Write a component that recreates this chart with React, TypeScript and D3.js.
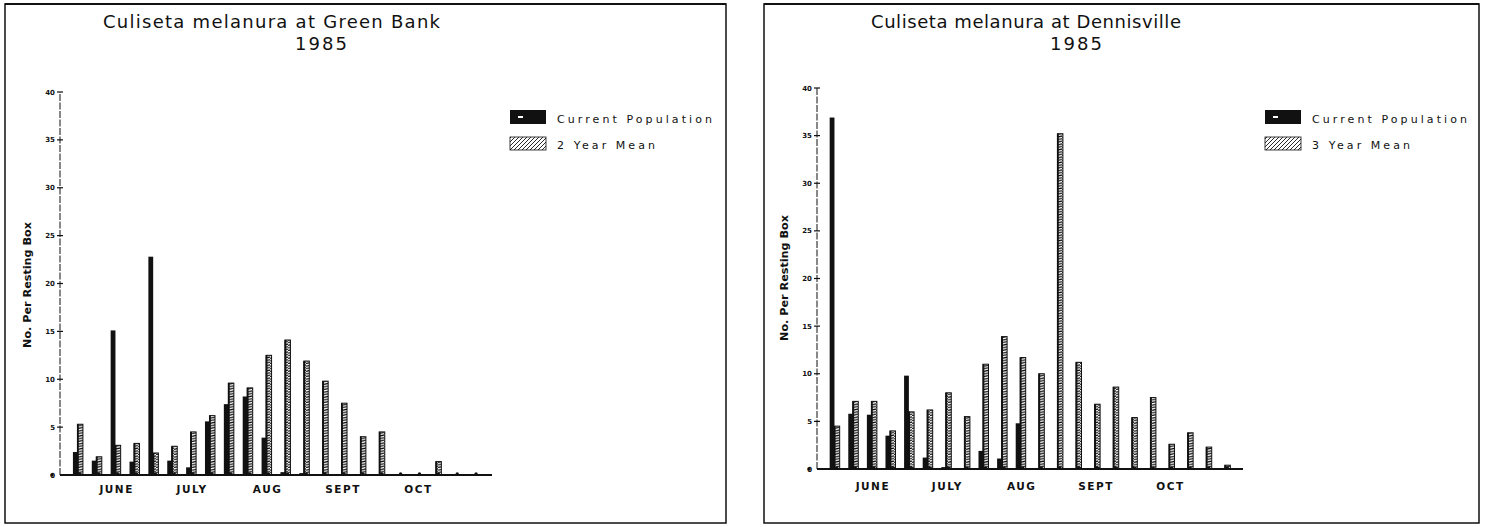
import React from "react";
import * as d3 from "d3";

const weeks = d3.range(1, 23);
const monthLabels = ["JUNE", "JULY", "AUG", "SEPT", "OCT"];
const monthWeekIndex = [2, 6, 10, 14, 18];
const yTicks = [0, 5, 10, 15, 20, 25, 30, 35, 40];

const greenBankCurrent = [2.4, 1.5, 15.1, 1.4, 22.8, 1.5, 0.8, 5.6, 7.4, 8.2, 3.9, 0.3, 0.2, 0.1, 0, 0, 0, 0, 0, 0, 0, 0];
const greenBankMean = [5.3, 1.9, 3.1, 3.3, 2.3, 3.0, 4.5, 6.2, 9.6, 9.1, 12.5, 14.1, 11.9, 9.8, 7.5, 4.0, 4.5, 0, 0, 1.4, 0, 0];

const dennisvilleCurrent = [36.9, 5.8, 5.7, 3.5, 9.8, 1.2, 0.2, 0, 1.9, 1.1, 4.8, 0, 0, 0, 0, 0, 0, 0, 0, 0, 0, 0];
const dennisvilleMean = [4.5, 7.1, 7.1, 4.0, 6.0, 6.2, 8.0, 5.5, 11.0, 13.9, 11.7, 10.0, 35.2, 11.2, 6.8, 8.6, 5.4, 7.5, 2.6, 3.8, 2.3, 0.4];

type PanelProps = {
  box: [number, number, number, number];
  title: string;
  titleX: number;
  titleLen: number;
  yearX: number;
  axisX: number;
  axisEnd: number;
  y0: number;
  y40: number;
  current: number[];
  mean: number[];
  legendX: number;
  legendY: number;
  meanLabel: string;
  yLabelX: number;
  yLabelY: number;
  monthY: number;
};

const FONT = "'DejaVu Sans', sans-serif";

function Panel(p: PanelProps) {
  const x = d3.scalePoint<number>().domain(weeks).range([p.axisX, p.axisEnd]).padding(0.95);
  const y = d3.scaleLinear().domain([0, 40]).range([p.y0, p.y40]);
  const [bx, by, bw, bh] = p.box;
  return (
    <g>
      <rect x={bx} y={by} width={bw} height={bh} fill="none" stroke="#111" strokeWidth={1.5} />
      <line x1={bx} x2={bx + bw} y1={by} y2={by} stroke="#111" strokeWidth={2} />
      <text x={p.titleX} y={28} fontFamily={FONT} fontSize={18} fill="#111" textLength={p.titleLen} lengthAdjust="spacing">
        {p.title}
      </text>
      <text x={p.yearX} y={50} fontFamily={FONT} fontSize={18} fill="#111" textAnchor="middle" letterSpacing={2}>
        1985
      </text>
      {/* y axis */}
      <line x1={p.axisX} x2={p.axisX} y1={y(0)} y2={y(40)} stroke="#111" strokeWidth={1} strokeDasharray="7,1.5" />
      <line x1={p.axisX - 3} x2={p.axisX + 3} y1={y(40)} y2={y(40)} stroke="#111" strokeWidth={1.2} />
      {yTicks.map((t) => (
        <g key={t}>
          {t > 0 && t < 40 && (
            <line x1={p.axisX - 3} x2={p.axisX + 3} y1={y(t)} y2={y(t)} stroke="#111" strokeWidth={1.2} />
          )}
          <text x={p.axisX - 5} y={y(t) + 2.5} fontFamily={FONT} fontSize={7} fontWeight="bold" fill="#111" textAnchor="end">
            {t}
          </text>
        </g>
      ))}
      <text
        transform={`translate(${p.yLabelX},${p.yLabelY}) rotate(-90)`}
        fontFamily={FONT}
        fontSize={11}
        fontWeight="bold"
        fill="#111"
        textAnchor="middle"
        textLength={126}
        lengthAdjust="spacingAndGlyphs"
      >
        No. Per Resting Box
      </text>
      {/* bars */}
      {weeks.map((w, i) => {
        const c = x(w) as number;
        const m = p.mean[i];
        const cu = p.current[i];
        return (
          <g key={w}>
            {m > 0 && (
              <rect x={c - 0.5} y={y(m)} width={5.5} height={y(0) - y(m)} fill="url(#ribs)" stroke="#111" strokeWidth={1} />
            )}
            {m > 0 && <line x1={c} x2={c} y1={y(m)} y2={y(0)} stroke="#111" strokeWidth={1.8} />}
            {cu > 0 && <rect x={c - 5} y={y(cu)} width={4.8} height={y(0) - y(cu)} fill="#111" />}
            <circle cx={c + 2} cy={y(0) - 1} r={1.7} fill="#111" />
          </g>
        );
      })}
      <line x1={p.axisX} x2={p.axisEnd} y1={y(0)} y2={y(0)} stroke="#111" strokeWidth={2} />
      <circle cx={p.axisX - 8} cy={y(0)} r={1.7} fill="#111" />
      {monthLabels.map((mLabel, k) => (
        <text
          key={mLabel}
          x={(x(weeks[monthWeekIndex[k]]) as number) + 1}
          y={p.monthY}
          fontFamily={FONT}
          fontSize={10.5}
          fontWeight="bold"
          fill="#111"
          textAnchor="middle"
          letterSpacing={1.5}
        >
          {mLabel}
        </text>
      ))}
      {/* legend */}
      <rect x={p.legendX} y={p.legendY} width={36} height={14} fill="#111" />
      <rect x={p.legendX + 8} y={p.legendY + 6} width={5} height={2} fill="#fff" />
      <text x={p.legendX + 47} y={p.legendY + 13} fontFamily={FONT} fontSize={11} fill="#111" textLength={155} lengthAdjust="spacing">
        Current Population
      </text>
      <rect x={p.legendX} y={p.legendY + 27} width={36} height={13} fill="url(#diag)" stroke="#111" strokeWidth={0.8} />
      <text x={p.legendX + 47} y={p.legendY + 39} fontFamily={FONT} fontSize={11} fill="#111" textLength={98} lengthAdjust="spacing">
        {p.meanLabel}
      </text>
    </g>
  );
}

export default function App() {
  return (
    <div style={{ position: "absolute", left: 0, top: 0 }}>
      <svg width={1489} height={527} style={{ display: "block", background: "#fff" }}>
        <defs>
          <pattern id="ribs" patternUnits="userSpaceOnUse" width={6} height={2.6}>
            <rect width={6} height={2.6} fill="#fff" />
            <path d="M0,2.2 L6,0.8" stroke="#111" strokeWidth={1.2} />
          </pattern>
          <pattern id="diag" patternUnits="userSpaceOnUse" width={4} height={4}>
            <rect width={4} height={4} fill="#fff" />
            <path d="M0,4 L4,0 M-1,1 L1,-1 M3,5 L5,3" stroke="#111" strokeWidth={0.9} />
          </pattern>
        </defs>
        <Panel
          box={[5, 4, 721, 519]}
          title="Culiseta melanura at Green Bank"
          titleX={103}
          titleLen={337}
          yearX={322}
          axisX={60}
          axisEnd={492}
          y0={475}
          y40={92}
          current={greenBankCurrent}
          mean={greenBankMean}
          legendX={510}
          legendY={110}
          meanLabel="2 Year Mean"
          yLabelX={31}
          yLabelY={285}
          monthY={493}
        />
        <Panel
          box={[764, 4, 715, 519]}
          title="Culiseta melanura at Dennisville"
          titleX={871}
          titleLen={310}
          yearX={1077}
          axisX={817}
          axisEnd={1243}
          y0={469}
          y40={88}
          current={dennisvilleCurrent}
          mean={dennisvilleMean}
          legendX={1265}
          legendY={110}
          meanLabel="3 Year Mean"
          yLabelX={788}
          yLabelY={278}
          monthY={490}
        />
      </svg>
    </div>
  );
}
